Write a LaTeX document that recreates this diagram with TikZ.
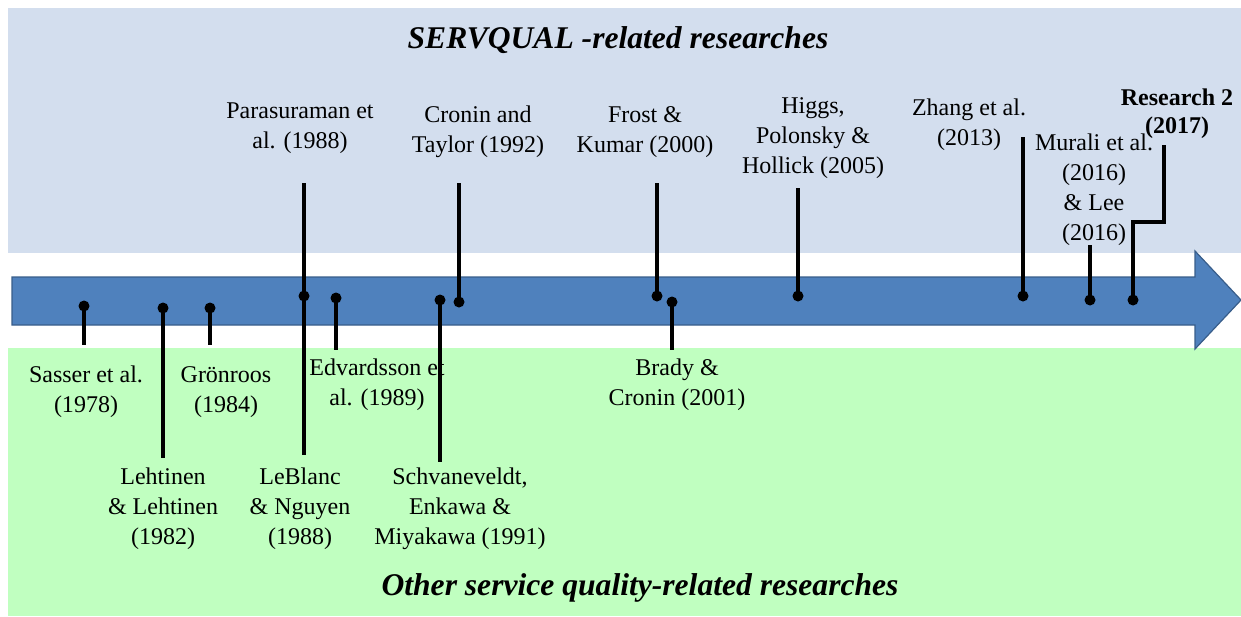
\documentclass[tikz,border=0pt]{standalone}
\usepackage{fontspec}
\setmainfont{Liberation Serif}
\usetikzlibrary{positioning}
\definecolor{bandtop}{RGB}{211,222,238}
\definecolor{bandbot}{RGB}{192,255,192}
\definecolor{arrowblue}{RGB}{79,129,189}
\definecolor{arrowedge}{RGB}{56,93,138}

\tikzset{
  lbl/.style={align=center, font=\fontsize{12}{15}\selectfont, inner sep=1pt},
  ttl/.style={font=\fontsize{15.8}{18}\selectfont\bfseries\itshape},
  stem/.style={line width=1.6pt},
  dot/.style={circle, fill=black, inner sep=0pt, minimum size=5.5pt},
}

\begin{document}
\begin{tikzpicture}[x=0.5pt, y=-0.5pt]
\useasboundingbox (0,0) rectangle (1241,616);
% Bands
\fill[bandtop] (8,8) rectangle (1241,253);
\fill[bandbot] (8,348) rectangle (1241,616);
\node[ttl] (top) at (618,40) {SERVQUAL -related researches};
\node[ttl] (bot) at (640,588) {Other service quality-related researches};

% Timeline arrow
\filldraw[fill=arrowblue, draw=arrowedge, line width=0.6pt]
  (12,277) -- (1195,277) -- (1195,251) -- (1241,300) -- (1195,349) -- (1195,325) -- (12,325) -- cycle;

% Labels above
\node[lbl] (par) at (300,128) {Parasuraman et\\al. (1988)};
\node[lbl] (cro) at (478,132) {Cronin and\\Taylor (1992)};
\node[lbl] (fro) at (645,132) {Frost \&\\Kumar (2000)};
\node[lbl] (hig) at (813,138) {Higgs,\\Polonsky \&\\Hollick (2005)};
\node[lbl] (zha) at (969,125) {Zhang et al.\\(2013)};
\node[lbl] (mur) at (1094,190) {Murali et al.\\(2016)\\\& Lee\\(2016)};
\node[lbl, font=\fontsize{12}{14}\selectfont\bfseries] (res) at (1177,114) {Research 2\\(2017)};

% Labels below
\node[lbl] (sas) at (86,392) {Sasser et al.\\(1978)};
\node[lbl] (gro) at (226,392) {Grönroos\\(1984)};
\node[lbl] (edv) at (377,385) {Edvardsson et\\al. (1989)};
\node[lbl] (bra) at (677,385) {Brady \&\\Cronin (2001)};
\node[lbl] (leh) at (163,509) {Lehtinen\\\& Lehtinen\\(1982)};
\node[lbl] (leb) at (300,509) {LeBlanc\\\& Nguyen\\(1988)};
\node[lbl] (sch) at (460,509) {Schvaneveldt,\\Enkawa \&\\Miyakawa (1991)};

% Dots on the arrow
\node[dot] (d-sas) at (84,306) {};
\node[dot] (d-leh) at (163,308) {};
\node[dot] (d-gro) at (210,308) {};
\node[dot] (d-par) at (304,296) {};
\node[dot] (d-edv) at (336,298) {};
\node[dot] (d-sch) at (440,300) {};
\node[dot] (d-cro) at (459,302) {};
\node[dot] (d-fro) at (657,296) {};
\node[dot] (d-bra) at (672,302) {};
\node[dot] (d-hig) at (798,296) {};
\node[dot] (d-zha) at (1023,296) {};
\node[dot] (d-mur) at (1090,300) {};
\node[dot] (d-res) at (1133,300) {};

% Stem ends
\coordinate (e-sas) at (84,345);
\coordinate (e-leh) at (163,458);
\coordinate (e-gro) at (210,345);
\coordinate (e-par) at (304,183);
\coordinate (e-leb) at (304,455);
\coordinate (e-edv) at (336,350);
\coordinate (e-sch) at (440,462);
\coordinate (e-cro) at (459,183);
\coordinate (e-fro) at (657,183);
\coordinate (e-bra) at (672,350);
\coordinate (e-hig) at (798,188);
\coordinate (e-zha) at (1023,137);
\coordinate (e-mur) at (1090,245);
\coordinate (k-res) at (1133,222);
\coordinate (e-res) at (1164,145);

% Stems
\draw[stem] (d-sas.center) -- (e-sas);
\draw[stem] (d-leh.center) -- (e-leh);
\draw[stem] (d-gro.center) -- (e-gro);
\draw[stem] (e-par) -- (e-leb);
\draw[stem] (d-edv.center) -- (e-edv);
\draw[stem] (d-sch.center) -- (e-sch);
\draw[stem] (d-cro.center) -- (e-cro);
\draw[stem] (d-fro.center) -- (e-fro);
\draw[stem] (d-bra.center) -- (e-bra);
\draw[stem] (d-hig.center) -- (e-hig);
\draw[stem] (d-zha.center) -- (e-zha);
\draw[stem] (d-mur.center) -- (e-mur);
\draw[stem] (d-res.center) -- (k-res) -| (e-res);
\end{tikzpicture}
\end{document}
